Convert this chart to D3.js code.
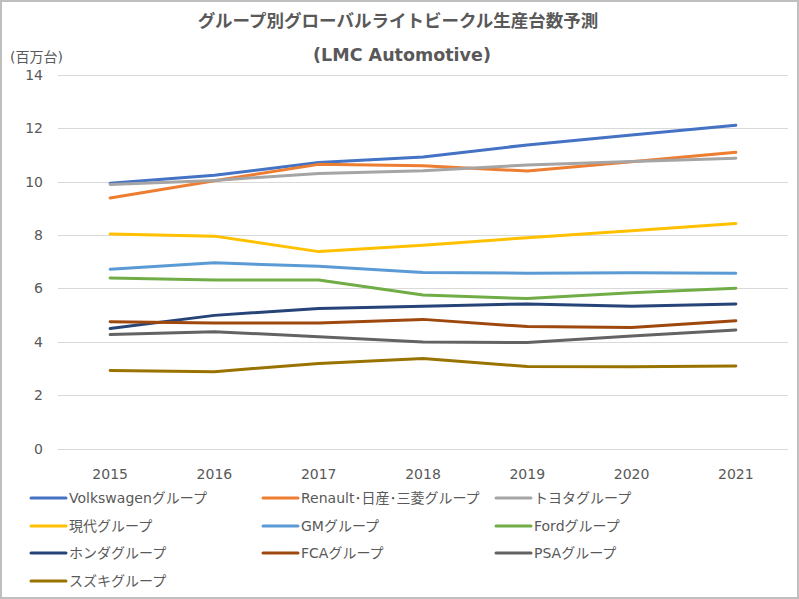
<!DOCTYPE html>
<html><head><meta charset="utf-8">
<script src="https://cdn.jsdelivr.net/npm/d3@7"></script>
<style>body{margin:0;background:#fff}svg text{font-family:"DejaVu Sans","Noto Sans CJK JP",sans-serif;fill:#595959}</style>
</head><body><svg id="c" width="799" height="599"></svg>
<script>
const years = ["2015","2016","2017","2018","2019","2020","2021"];
const seriesNames = ["Volkswagenグループ","Renault･日産･三菱グループ","トヨタグループ","現代グループ","GMグループ","Fordグループ","ホンダグループ","FCAグループ","PSAグループ","スズキグループ"];
const volkswagen = [9.94,10.24,10.72,10.93,11.38,11.75,12.12];
const renault    = [9.39,10.04,10.65,10.60,10.40,10.75,11.10];
const toyota     = [9.90,10.05,10.31,10.41,10.63,10.76,10.88];
const hyundai    = [8.04,7.96,7.38,7.62,7.90,8.16,8.43];
const gm         = [6.72,6.96,6.83,6.60,6.57,6.59,6.57];
const ford       = [6.39,6.32,6.32,5.75,5.62,5.84,6.01];
const honda      = [4.50,4.99,5.25,5.33,5.42,5.33,5.42];
const fca        = [4.75,4.70,4.70,4.84,4.57,4.54,4.79];
const psa        = [4.27,4.38,4.19,3.99,3.97,4.22,4.44];
const suzuki     = [2.92,2.88,3.19,3.37,3.07,3.06,3.09];
const yTicks = [0,2,4,6,8,10,12,14];
const colors = ["#4472C4","#ED7D31","#A5A5A5","#FFC000","#5B9BD5","#70AD47","#264478","#9E480E","#636363","#997300"];
const title1 = "グループ別グローバルライトビークル生産台数予測";
const title2 = "(LMC Automotive)";
const unitLabel = "(百万台)";

const allValues = [volkswagen,renault,toyota,hyundai,gm,ford,honda,fca,psa,suzuki];
const svg = d3.select("#c");
svg.append("rect").attr("x",1).attr("y",1).attr("width",797).attr("height",597)
  .attr("fill","#fff").attr("stroke","#bfbfbf").attr("stroke-width",2);

const x = d3.scaleBand().domain(years).range([58,788]);
const y = d3.scaleLinear().domain([0,14]).range([448.5,75]);

svg.append("g").selectAll("line").data(yTicks).join("line")
  .attr("x1",58).attr("x2",788).attr("y1",d=>Math.round(y(d))+0.5).attr("y2",d=>Math.round(y(d))+0.5)
  .attr("stroke","#d9d9d9").attr("stroke-width",1);

svg.append("g").selectAll("text").data(yTicks).join("text")
  .attr("x",43).attr("y",d=>y(d)+5).attr("text-anchor","end").attr("font-size",14).text(d=>d);

svg.append("g").selectAll("text").data(years).join("text")
  .attr("x",d=>x(d)+x.bandwidth()/2).attr("y",479).attr("text-anchor","middle").attr("font-size",14).text(d=>d);

svg.append("text").attr("x",398).attr("y",27).attr("text-anchor","middle").attr("font-size",17.5).attr("font-weight","bold").text(title1);
svg.append("text").attr("x",402).attr("y",61).attr("text-anchor","middle").attr("font-size",17.5).attr("font-weight","bold").text(title2);
svg.append("text").attr("x",10).attr("y",62).attr("font-size",14).text(unitLabel);

const line = d3.line().x((d,i)=>x(years[i])+x.bandwidth()/2).y(d=>y(d));
svg.append("g").selectAll("path").data(allValues).join("path")
  .attr("d",line).attr("fill","none").attr("stroke",(d,i)=>colors[i])
  .attr("stroke-width",3).attr("stroke-linecap","round").attr("stroke-linejoin","round");

const colX = [31,263,496];
const rowY = [498,526,553,581];
const lg = svg.append("g").selectAll("g").data(seriesNames).join("g")
  .attr("transform",(d,i)=>`translate(${colX[i%3]},${rowY[Math.floor(i/3)]})`);
lg.append("line").attr("x1",0).attr("x2",35).attr("y1",0).attr("y2",0)
  .attr("stroke",(d,i)=>colors[i]).attr("stroke-width",3).attr("stroke-linecap","round");
lg.append("text").attr("x",38).attr("y",5).attr("font-size",14).text(d=>d);
</script></body></html>
